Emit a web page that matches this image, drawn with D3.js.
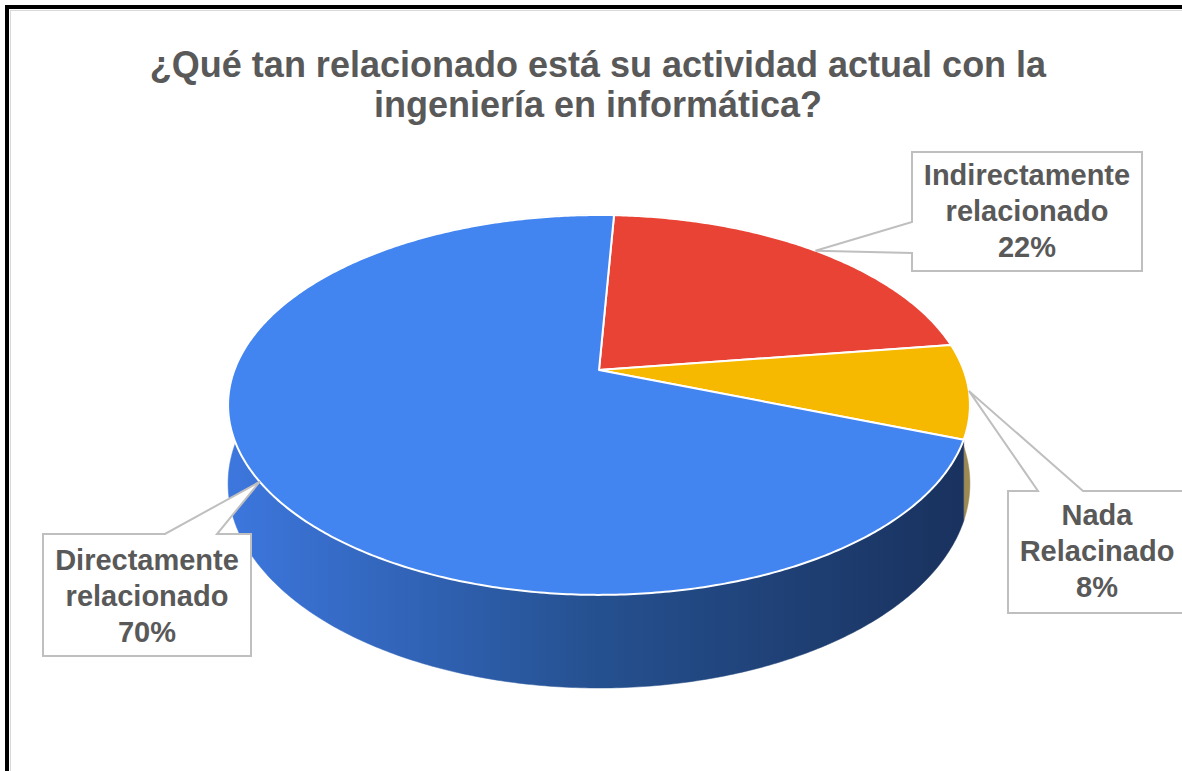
<!DOCTYPE html>
<html><head><meta charset="utf-8">
<script src="https://cdn.jsdelivr.net/npm/d3@7"></script>
<style>html,body{margin:0;padding:0;background:#fff;overflow:hidden}svg{display:block}</style>
</head><body>
<svg id="c" width="1182" height="771"></svg>
<script>
// ---- data ----
const titleLines = ["¿Qué tan relacionado está su actividad actual con la", "ingeniería en informática?"];
const categories = ["Indirectamente relacionado", "Nada Relacinado", "Directamente relacionado"];
const labelLines = [["Indirectamente", "relacionado"], ["Nada", "Relacinado"], ["Directamente", "relacionado"]];
const values = [22, 8, 70];
const topColors = ["#E94335", "#F7B800", "#4284F0"];
const wallColors = ["#8E2A22", "#9C8A55", "url(#wallBlue)"];

// ---- layout ----
const W = 1182, H = 771;
const cx = 599, cy = 370, Rx = 364.6, Ry = 183.5, persp = 0.184, depth = 76;
const startDeg = 2.8;
const font = "'Liberation Sans', Arial, sans-serif";
const textColor = "#595959";

const svg = d3.select("#c");
const defs = svg.append("defs");
const g1 = defs.append("linearGradient").attr("id", "wallBlue")
  .attr("gradientUnits", "userSpaceOnUse").attr("x1", 228).attr("x2", 970).attr("y1", 0).attr("y2", 0);
g1.append("stop").attr("offset", 0).attr("stop-color", "#3D77DE");
g1.append("stop").attr("offset", 0.5).attr("stop-color", "#25508F");
g1.append("stop").attr("offset", 1).attr("stop-color", "#19315D");

// frame
svg.append("rect").attr("x", 7).attr("y", 7).attr("width", 1300).attr("height", 900)
  .attr("fill", "#fff").attr("stroke", "#000").attr("stroke-width", 4);
svg.append("rect").attr("x", 10.5).attr("y", 10.5).attr("width", 1300).attr("height", 900)
  .attr("fill", "none").attr("stroke", "#d9d9d9").attr("stroke-width", 1);

// title
const title = svg.append("text").attr("text-anchor", "middle")
  .attr("font-family", font).attr("font-weight", "bold").attr("font-size", 36).attr("fill", textColor);
titleLines.forEach((t, i) => title.append("tspan").attr("x", 598).attr("y", 77 + i * 40).text(t));

// projection of pie plane (angle clockwise from top, radius fraction, drop flag)
function proj(a, r, drop) {
  const u = r * Math.sin(a), v = -r * Math.cos(a);
  const s = 1 / (1 - persp * v);
  return [cx + Rx * u * s, cy + Ry * v * s + (drop ? depth * s : 0)];
}
const pie = d3.pie().sort(null).value(d => d)
  .startAngle(startDeg * Math.PI / 180).endAngle(startDeg * Math.PI / 180 + 2 * Math.PI);
const arcs = pie(values).map((d, i) => ({...d, i}));

function arcPts(a0, a1, drop) {
  const n = Math.max(4, Math.ceil((a1 - a0) / 0.01));
  return d3.range(n + 1).map(k => proj(a0 + (a1 - a0) * k / n, 1, drop));
}
const line = d3.line();

// walls (outer), back to front
const walls = arcs.map(d => {
  const top = arcPts(d.startAngle, d.endAngle, false);
  const bot = arcPts(d.startAngle, d.endAngle, true).reverse();
  const mid = (d.startAngle + d.endAngle) / 2;
  return {d, pts: top.concat(bot), depthKey: -Math.cos(mid)};
}).sort((a, b) => a.depthKey - b.depthKey);

svg.append("g").selectAll("path").data(walls).join("path")
  .attr("d", w => line(w.pts) + "Z")
  .attr("fill", w => wallColors[w.d.i])
  .attr("stroke", w => wallColors[w.d.i]).attr("stroke-width", 0.5);

// top faces
svg.append("g").selectAll("path").data(arcs).join("path")
  .attr("d", d => line([[cx, cy]].concat(arcPts(d.startAngle, d.endAngle, false))) + "Z")
  .attr("fill", d => topColors[d.i])
  .attr("stroke", "#fff").attr("stroke-width", 2).attr("stroke-linejoin", "round");

// callouts
const boxes = [
  {x0: 912, y0: 152, x1: 1142, y1: 271, side: "left", p0: 222, p1: 253, tx: 1027, ty: 185},
  {x0: 1008, y0: 491, x1: 1190, y1: 613, side: "top", p0: 1038, p1: 1083, tx: 1097, ty: 525},
  {x0: 43, y0: 534, x1: 251, y1: 656, side: "top", p0: 165, p1: 217, tx: 147, ty: 570}
];
const lg = svg.append("g");
arcs.forEach(d => {
  const b = boxes[d.i];
  const mid = (d.startAngle + d.endAngle) / 2;
  const anchor = proj(mid, 1, false);
  let pts;
  if (b.side === "left") {
    pts = [[b.x0, b.y0], [b.x1, b.y0], [b.x1, b.y1], [b.x0, b.y1], [b.x0, b.p1], anchor, [b.x0, b.p0]];
  } else {
    pts = [[b.x0, b.y0], [b.p0, b.y0], anchor, [b.p1, b.y0], [b.x1, b.y0], [b.x1, b.y1], [b.x0, b.y1]];
  }
  lg.append("path").attr("d", line(pts) + "Z").attr("fill", "#fff")
    .attr("stroke", "#BFBFBF").attr("stroke-width", 2).attr("stroke-linejoin", "miter");
  const t = lg.append("text").attr("text-anchor", "middle").attr("font-family", font)
    .attr("font-weight", "bold").attr("font-size", 29).attr("fill", textColor);
  const lines = labelLines[d.i].concat([Math.round(d.value) + "%"]);
  lines.forEach((s, k) => t.append("tspan").attr("x", b.tx).attr("y", b.ty + k * 36).text(s));
});
</script>
</body></html>
